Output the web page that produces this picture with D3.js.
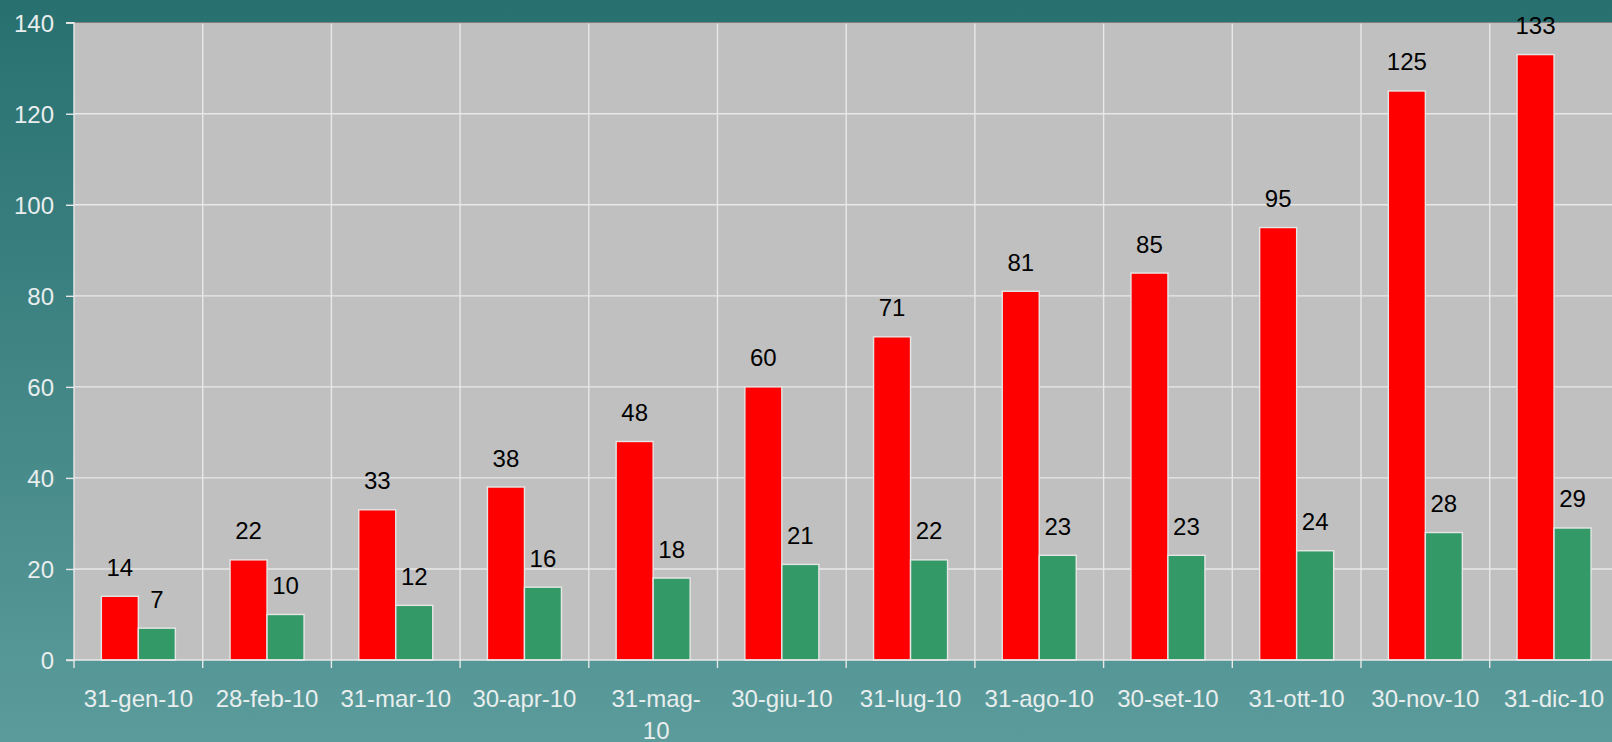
<!DOCTYPE html>
<html>
<head>
<meta charset="utf-8">
<script src="https://cdn.jsdelivr.net/npm/d3@7"></script>
<style>
  html, body { margin: 0; padding: 0; overflow: hidden; }
  body { width: 1612px; height: 742px; }
  svg { display: block; font-family: "Liberation Sans", Arial, sans-serif; }
</style>
</head>
<body>
<svg id="chart" width="1612" height="742"></svg>
<script>
const categories = ["31-gen-10","28-feb-10","31-mar-10","30-apr-10","31-mag-10","30-giu-10","31-lug-10","31-ago-10","30-set-10","31-ott-10","30-nov-10","31-dic-10"];
const seriesNames = ["rossi", "verdi"];
const redValues = [14, 22, 33, 38, 48, 60, 71, 81, 85, 95, 125, 133];
const greenValues = [7, 10, 12, 16, 18, 21, 22, 23, 23, 24, 28, 29];
const yTicks = [0, 20, 40, 60, 80, 100, 120, 140];
const seriesColors = ["#ff0000", "#339966"];

(function () {
const W = 1612, H = 742;
const plotLeft = 74, plotTop = 22.7, plotBottom = 660;
const band = 128.7;
const plotRight = plotLeft + band * categories.length;

const svg = d3.select("#chart");
const defs = svg.append("defs");
const grad = defs.append("linearGradient").attr("id", "bg").attr("x1", 0).attr("y1", 0).attr("x2", 0).attr("y2", 1);
grad.append("stop").attr("offset", "0%").attr("stop-color", "#287070");
grad.append("stop").attr("offset", "100%").attr("stop-color", "#5b9b9b");
svg.append("rect").attr("width", W).attr("height", H).attr("fill", "url(#bg)");

const x = d3.scaleBand().domain(categories).range([plotLeft, plotRight]).padding(0);
const groupW = 74;
const x1 = d3.scaleBand().domain(seriesNames)
  .range([(x.bandwidth() - groupW) / 2, (x.bandwidth() + groupW) / 2]).padding(0);
const y = d3.scaleLinear().domain([0, 140]).range([plotBottom, plotTop]);

svg.append("rect").attr("x", plotLeft).attr("y", plotTop).attr("width", plotRight - plotLeft).attr("height", plotBottom - plotTop).attr("fill", "#c0c0c0");

const gridColor = "#e8e8e8";
svg.append("g").selectAll("line").data(yTicks.filter(d => d > 0)).join("line")
  .attr("x1", plotLeft).attr("x2", plotRight)
  .attr("y1", d => y(d)).attr("y2", d => y(d))
  .attr("stroke", gridColor).attr("stroke-width", 1.4);
svg.append("g").selectAll("line").data(categories.slice(1)).join("line")
  .attr("x1", d => x(d)).attr("x2", d => x(d))
  .attr("y1", plotTop).attr("y2", plotBottom)
  .attr("stroke", gridColor).attr("stroke-width", 1.4);

svg.append("line").attr("x1", plotLeft).attr("x2", plotRight).attr("y1", plotTop).attr("y2", plotTop)
  .attr("stroke", "#808080").attr("stroke-width", 1.2);

const data = categories.map((c, i) => ({ c, vals: [redValues[i], greenValues[i]] }));
const groups = svg.append("g").selectAll("g").data(data).join("g")
  .attr("transform", d => `translate(${x(d.c)},0)`);
groups.selectAll("rect").data(d => d.vals.map((v, j) => ({ s: seriesNames[j], v, j }))).join("rect")
  .attr("x", d => x1(d.s)).attr("width", x1.bandwidth())
  .attr("y", d => y(d.v)).attr("height", d => y(0) - y(d.v))
  .attr("fill", d => seriesColors[d.j])
  .attr("stroke", "#e6e6e6").attr("stroke-width", 1.4);
groups.selectAll("text").data(d => d.vals.map((v, j) => ({ s: seriesNames[j], v, j }))).join("text")
  .attr("x", d => x1(d.s) + x1.bandwidth() / 2)
  .attr("y", d => y(d.v) - 20.5)
  .attr("text-anchor", "middle")
  .attr("font-size", 24).attr("fill", "#000")
  .text(d => d.v);

const yAxis = d3.axisLeft(y).tickValues(yTicks).tickSize(8).tickPadding(12);
const gy = svg.append("g").attr("transform", `translate(${plotLeft},0)`).call(yAxis);
gy.select(".domain").attr("stroke", gridColor).attr("stroke-width", 1.4).attr("d", `M-8,${plotTop}H0V${plotBottom}H-8`);
gy.selectAll(".tick line").attr("stroke", gridColor).attr("stroke-width", 1.4);
gy.selectAll(".tick text").attr("fill", "#e8eeee").attr("font-size", 24)
  .attr("font-family", "Liberation Sans, Arial, sans-serif").attr("dy", "0.35em");

const gx = svg.append("g").attr("transform", `translate(0,${plotBottom})`);
gx.append("line").attr("x1", plotLeft).attr("x2", plotRight).attr("y1", 0).attr("y2", 0)
  .attr("stroke", gridColor).attr("stroke-width", 1.4);
gx.selectAll("line.tk").data(categories).join("line").attr("class", "tk")
  .attr("x1", d => x(d)).attr("x2", d => x(d)).attr("y1", 0).attr("y2", 8)
  .attr("stroke", gridColor).attr("stroke-width", 1.4);
const lbl = gx.selectAll("text").data(categories).join("text")
  .attr("x", d => x(d) + x.bandwidth() / 2)
  .attr("y", 46.5)
  .attr("text-anchor", "middle")
  .attr("font-size", 24).attr("fill", "#e8eeee");
lbl.each(function(d) {
  const t = d3.select(this);
  t.text(d);
  if (this.getComputedTextLength() > 114) {
    const k = d.lastIndexOf("-") + 1;
    const cx = x(d) + x.bandwidth() / 2 + 3;
    t.text(null);
    t.append("tspan").attr("x", cx).text(d.slice(0, k));
    t.append("tspan").attr("x", cx).attr("dy", 32).text(d.slice(k));
  }
});
})();
</script>
</body>
</html>
